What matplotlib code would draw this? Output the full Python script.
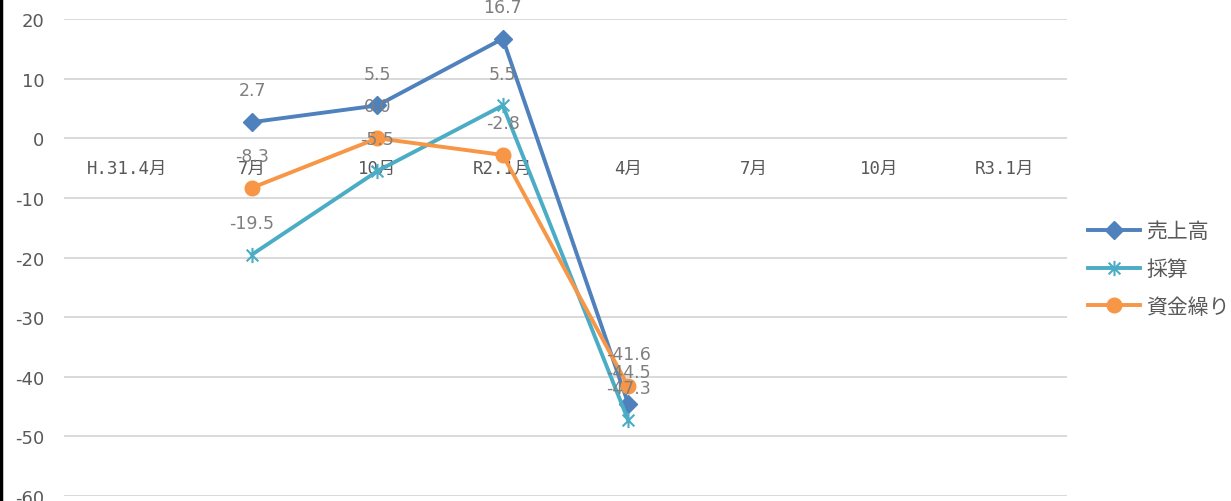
import numpy as np
import matplotlib
matplotlib.use('Agg')
import matplotlib.pyplot as plt
from matplotlib.path import Path
from matplotlib.lines import Line2D

plt.rcParams['axes.unicode_minus'] = False

# categories along the zero line
months = ['H.31.4月', '7月', '10月', 'R2.1月', '4月', '7月', '10月', 'R3.1月']

# DI values (nan = not yet surveyed)
sales = [np.nan, 2.7, 5.5, 16.7, -44.5, np.nan, np.nan, np.nan]
profit = [np.nan, -19.5, -5.5, 5.5, -47.3, np.nan, np.nan, np.nan]
cash = [np.nan, -8.3, 0.0, -2.8, -41.6, np.nan, np.nan, np.nan]

names = ['売上高', '採算', '資金繰り']
colors = ['#4F81BD', '#4BACC6', '#F79646']

# Excel style "star" marker: an X with a vertical bar through it
star = Path([(-1, -1), (1, 1), (-1, 1), (1, -1), (0, -1.3), (0, 1.3)],
            [Path.MOVETO, Path.LINETO, Path.MOVETO, Path.LINETO, Path.MOVETO, Path.LINETO])

grey = '#595959'
cjk = ['Noto Sans CJK JP', 'DejaVu Sans']

fig = plt.figure(figsize=(12.31, 5.02), dpi=100)
ax = fig.add_axes([64 / 1231, 1 - 497 / 502, 1003 / 1231, 477 / 502])

x = np.arange(len(months))
series = [sales, profit, cash]
styles = [dict(marker='D', markersize=9.5),
          dict(marker=star, markersize=11, markerfacecolor='none', markeredgewidth=1.5),
          dict(marker='o', markersize=10.5)]
for vals, name, col, st in zip(series, names, colors, styles):
    ax.plot(x, vals, color=col, lw=2.8, label=name, zorder=3, **st)

for vals in series:
    for xi, v in zip(x, vals):
        if np.isnan(v):
            continue
        ax.annotate('%.1f' % v, (xi, v), xytext=(0, 23), textcoords='offset points',
                    ha='center', va='center', fontsize=12.5, color='#7f7f7f', zorder=5)

ax.set_xlim(-0.5, len(months) - 0.5)
ax.set_ylim(-60, 20)
ax.set_yticks(np.arange(-60, 21, 10))
ax.yaxis.grid(True, color='#d9d9d9', lw=1.4)
ax.set_axisbelow(True)
for s in ['top', 'right', 'left']:
    ax.spines[s].set_visible(False)
ax.spines['bottom'].set_position(('data', 0))
ax.spines['bottom'].set_visible(False)

ax.set_xticks(x)
ax.set_xticklabels(months, family=['DejaVu Sans Mono', 'Noto Sans CJK JP'],
                   fontsize=12.5, color=grey)
ax.tick_params(axis='x', length=0, pad=15)
ax.tick_params(axis='y', length=0, pad=14, labelsize=13, labelcolor=grey)

leg = fig.legend(loc='center left', bbox_to_anchor=(1088 / 1231, 1 - 270 / 502),
                 frameon=False, handlelength=2.5, handletextpad=0.3,
                 labelspacing=0.75, borderpad=0, borderaxespad=0,
                 prop={'family': cjk, 'size': 15})
for t in leg.get_texts():
    t.set_color(grey)

# black edge on the left of the picture
fig.add_artist(Line2D([0.001, 0.001], [0, 1], color='black', lw=2.5,
                      transform=fig.transFigure))

fig.savefig('out.png', dpi=100)
